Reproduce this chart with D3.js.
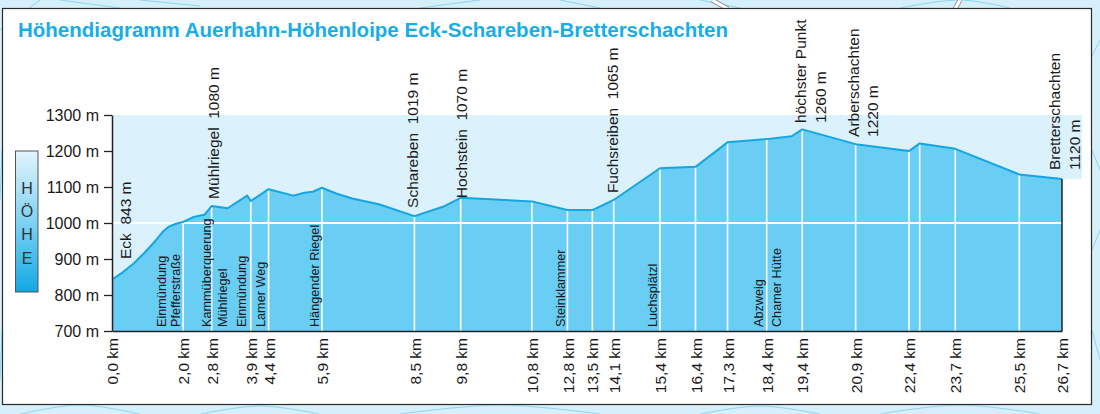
<!DOCTYPE html>
<html>
<head>
<meta charset="utf-8">
<script src="https://cdn.jsdelivr.net/npm/d3@7"></script>
<style>
  html, body { margin: 0; padding: 0; background: #d3eefa; }
  svg { display: block; font-family: "Liberation Sans", Arial, sans-serif; }
  text { white-space: pre; }
</style>
</head>
<body>
<svg id="chart" width="1100" height="414"></svg>
<script>
// ---------- data ----------
const titleText = "Höhendiagramm Auerhahn-Höhenloipe Eck-Schareben-Bretterschachten";

// elevation profile (distance in km, elevation in m)
const profileKm   = [0.0, 0.3, 0.6, 0.9, 1.2, 1.45, 1.6, 1.8, 2.0, 2.3, 2.55, 2.6, 2.8, 3.25, 3.8, 3.9, 4.4, 5.1, 5.4, 5.65, 5.9, 6.3, 6.75, 7.5, 8.5, 9.3, 9.8, 11.8, 12.8, 13.5, 14.1, 15.4, 16.4, 17.3, 18.4, 19.1, 19.4, 20.9, 22.4, 22.7, 23.7, 25.5, 26.7];
const profileElev = [843, 863, 887, 916, 948, 978, 990, 998, 1003, 1017, 1022, 1023, 1047, 1041, 1076, 1061, 1094, 1076, 1084, 1087, 1098, 1082, 1068, 1052, 1019, 1045, 1070, 1060, 1036, 1036, 1064, 1152, 1156, 1224, 1233, 1241, 1260, 1219, 1200, 1221, 1206, 1135, 1122];

// x axis ticks (position in km) and their printed labels
const tickKm     = [0.0, 2.0, 2.8, 3.9, 4.4, 5.9, 8.5, 9.8, 11.8, 12.8, 13.5, 14.1, 15.4, 16.4, 17.3, 18.4, 19.4, 20.9, 22.4, 23.7, 25.5, 26.7];
const tickLabels = ["0,0 km", "2,0 km", "2,8 km", "3,9 km", "4,4 km", "5,9 km", "8,5 km", "9,8 km", "10,8 km", "12,8 km", "13,5 km", "14,1 km", "15,4 km", "16,4 km", "17,3 km", "18,4 km", "19,4 km", "20,9 km", "22,4 km", "23,7 km", "25,5 km", "26,7 km"];
const extraLineKm = [22.7];

// y axis
const yTicks      = [700, 800, 900, 1000, 1100, 1200, 1300];
const yTickLabels = ["700 m", "800 m", "900 m", "1000 m", "1100 m", "1200 m", "1300 m"];

// place names above the profile (one entry per text line)
const topNames = ["Eck  843 m", "Mühlriegel  1080 m", "Schareben  1019 m", "Hochstein  1070 m", "Fuchsreiben  1065 m", "höchster Punkt", "1260 m", "Arberschachten", "1220 m", "Bretterschachten", "1120 m"];
const topKm    = [0.37, 2.84, 8.43, 9.81, 14.05, 19.36, 19.9, 20.85, 21.36, 26.5, 27.04];
const topElev  = [900, 1067, 1042, 1069, 1083, 1278, 1278, 1239, 1239, 1147, 1147];

// waypoint names inside the profile area (one entry per text line)
const innerNames = ["Einmündung", "Pfefferstraße", "Kammüberquerung", "Mühlriegel", "Einmündung", "Lamer Weg", "Hängender Riegel", "Steinklammer", "Luchsplätzl", "Abzweig", "Chamer Hütte"];
const innerKm    = [1.38, 1.77, 2.64, 3.09, 3.65, 4.16, 5.68, 12.59, 15.2, 18.16, 18.66];
const innerElev  = 711;

const legendLetters = ["H", "Ö", "H", "E"];

// ---------- layout ----------
const W = 1100, H = 414;
const svg = d3.select("#chart");
const x = d3.scaleLinear().domain([0, 26.7]).range([112, 1062]);
const y = d3.scaleLinear().domain([700, 1300]).range([331, 115]);

const profile = profileKm.map((k, i) => ({ km: k, elev: profileElev[i] }));
const bis = d3.bisector(d => d.km).left;
function elevAt(k) {
  const i = bis(profile, k);
  if (i <= 0) return profile[0].elev;
  if (i >= profile.length) return profile[profile.length - 1].elev;
  const a = profile[i - 1], b = profile[i];
  return a.elev + (b.elev - a.elev) * (k - a.km) / (b.km - a.km);
}
const endElev = profile[profile.length - 1].elev;

// ---------- background (map-like) ----------
const defs = svg.append("defs");
const bg = svg.append("g");
bg.append("rect").attr("width", W).attr("height", H).attr("fill", "#d5effb");
const contour = d3.line().curve(d3.curveCatmullRom);
const bgCurves = [
  [[0, 30], [40, 0]], [[60, 0], [120, 8]], [[140, 0], [200, 6]], [[420, 8], [480, 0]],
  [[560, 0], [600, 8]], [[700, 0], [740, 8]], [[900, 8], [960, 0], [1010, 8]],
  [[1090, 60], [1100, 40]], [[1092, 150], [1100, 170]], [[1092, 250], [1100, 230]],
  [[1092, 330], [1100, 360]], [[20, 414], [80, 405], [140, 414]], [[200, 414], [260, 406], [320, 414]],
  [[400, 414], [500, 405], [600, 414]], [[700, 414], [760, 406], [820, 414]], [[880, 414], [960, 405], [1040, 414]],
  [[0, 380], [2, 330]], [[0, 200], [2, 150]]
];
bg.selectAll("path.c").data(bgCurves).join("path")
  .attr("d", d => contour(d)).attr("fill", "none")
  .attr("stroke", "#8fd3f1").attr("stroke-width", 1);
bg.append("path").attr("d", "M712,0 L728,9").attr("stroke", "#999").attr("stroke-width", 5).attr("fill", "none");
bg.append("path").attr("d", "M712,0 L728,9").attr("stroke", "#fff").attr("stroke-width", 3).attr("fill", "none");
bg.append("path").attr("d", "M960,0 L955,9").attr("stroke", "#999").attr("stroke-width", 5).attr("fill", "none");
bg.append("path").attr("d", "M960,0 L955,9").attr("stroke", "#fff").attr("stroke-width", 3).attr("fill", "none");

// panel
svg.append("rect").attr("x", 2.5).attr("y", 8.5).attr("width", 1089).attr("height", 396)
  .attr("fill", "#ffffff").attr("stroke", "#2a2a2a").attr("stroke-width", 1.2);

// title
svg.append("text").attr("x", 18).attr("y", 37)
  .attr("font-size", 19.5).attr("font-weight", "bold").attr("fill", "#18ade8")
  .attr("textLength", 710).attr("lengthAdjust", "spacingAndGlyphs")
  .text(titleText);

// light band of the plot (extends a little right of the profile end, above its last elevation)
svg.append("rect")
  .attr("x", x(0)).attr("y", y(1300))
  .attr("width", x(26.7) - x(0)).attr("height", y(700) - y(1300))
  .attr("fill", "#dbf1fc");
svg.append("rect")
  .attr("x", x(26.7)).attr("y", y(1300))
  .attr("width", 20).attr("height", y(endElev) - y(1300))
  .attr("fill", "#dbf1fc");

// profile area
const area = d3.area().x(d => x(d.km)).y0(y(700)).y1(d => y(d.elev));
svg.append("path").datum(profile).attr("d", area).attr("fill", "#69cdf4");

// white vertical lines at ticks
const vKm = tickKm.filter(k => k > 0 && k < 26.7).concat(extraLineKm);
svg.selectAll("line.v").data(vKm).join("line")
  .attr("x1", d => x(d)).attr("x2", d => x(d))
  .attr("y1", y(700)).attr("y2", d => y(elevAt(d)))
  .attr("stroke", "#ffffff").attr("stroke-width", 1.6);

// white 1000 m gridline
svg.append("line").attr("x1", x(0)).attr("x2", x(26.7))
  .attr("y1", y(1000)).attr("y2", y(1000))
  .attr("stroke", "#ffffff").attr("stroke-width", 2);

// profile line
const line = d3.line().x(d => x(d.km)).y(d => y(d.elev));
svg.append("path").datum(profile).attr("d", line)
  .attr("fill", "none").attr("stroke", "#14a6e2").attr("stroke-width", 2).attr("stroke-linejoin", "round");

// right edge of the profile
svg.append("line").attr("x1", x(26.7)).attr("x2", x(26.7))
  .attr("y1", y(700)).attr("y2", y(endElev))
  .attr("stroke", "#222").attr("stroke-width", 1.5);

// y axis
const yAxis = svg.append("g").attr("transform", `translate(${x(0)},0)`)
  .call(d3.axisLeft(y).tickValues(yTicks).tickFormat((d, i) => yTickLabels[i]).tickSize(8).tickSizeOuter(0).tickPadding(5));
yAxis.select(".domain").attr("stroke", "#222").attr("stroke-width", 1.5);
yAxis.selectAll(".tick line").attr("stroke", "#222").attr("stroke-width", 1.3);
yAxis.selectAll(".tick text").attr("font-size", 16).attr("fill", "#1a1a1a")
  .attr("font-family", "'Liberation Sans', Arial, sans-serif");

// x axis
const xAxis = svg.append("g").attr("transform", `translate(0,${y(700)})`)
  .call(d3.axisBottom(x).tickValues(tickKm).tickFormat((d, i) => tickLabels[i]).tickSize(0).tickSizeOuter(0));
xAxis.select(".domain").attr("stroke", "#222").attr("stroke-width", 1.5);
xAxis.selectAll(".tick text")
  .attr("transform", "rotate(-90)").attr("text-anchor", "end")
  .attr("x", -7).attr("y", 0).attr("dy", "0.36em")
  .attr("font-size", 15.5).attr("fill", "#1a1a1a")
  .attr("font-family", "'Liberation Sans', Arial, sans-serif");

// top names
svg.selectAll("text.top").data(topNames).join("text")
  .attr("class", "top")
  .attr("transform", (d, i) => `translate(${x(topKm[i])},${y(topElev[i])}) rotate(-90)`)
  .attr("dy", "0.36em").attr("font-size", 15.5).attr("fill", "#1a1a1a")
  .text(d => d);

// inner names
svg.selectAll("text.inner").data(innerNames).join("text")
  .attr("class", "inner")
  .attr("transform", (d, i) => `translate(${x(innerKm[i])},${y(innerElev)}) rotate(-90)`)
  .attr("dy", "0.36em").attr("font-size", 12.7).attr("fill", "#1a1a1a")
  .text(d => d);

// legend box "HÖHE"
const grad = defs.append("linearGradient").attr("id", "hg").attr("x1", 0).attr("y1", 0).attr("x2", 0).attr("y2", 1);
grad.append("stop").attr("offset", "0%").attr("stop-color", "#e2f4fc");
grad.append("stop").attr("offset", "50%").attr("stop-color", "#7fd2f3");
grad.append("stop").attr("offset", "100%").attr("stop-color", "#12a8e3");
svg.append("rect").attr("x", 15.5).attr("y", 151).attr("width", 22.5).attr("height", 141)
  .attr("fill", "url(#hg)").attr("stroke", "#555").attr("stroke-width", 1);
const legY = d3.scalePoint().domain(d3.range(legendLetters.length)).range([188, 258]);
svg.selectAll("text.leg").data(legendLetters).join("text")
  .attr("x", 27).attr("y", (d, i) => legY(i)).attr("dy", "0.36em")
  .attr("text-anchor", "middle").attr("font-size", 16).attr("fill", "#333")
  .text(d => d);
</script>
</body>
</html>
